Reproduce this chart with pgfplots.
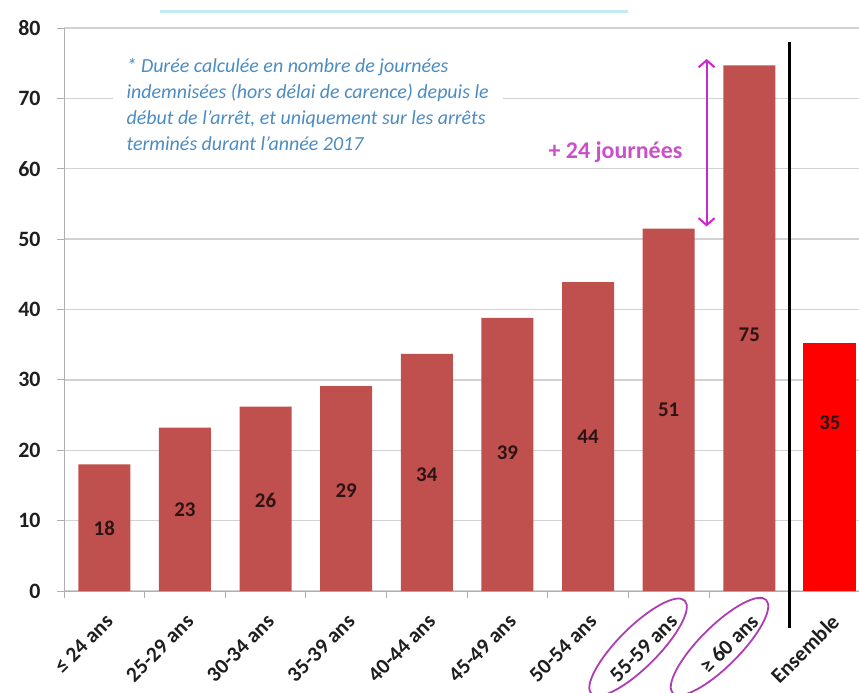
\documentclass[border=0pt]{standalone}
\usepackage{pgfplots}
\pgfplotsset{compat=1.18}
\usepackage{fontspec}
\setmainfont{Carlito}
\usetikzlibrary{arrows.meta,shapes.geometric}
\definecolor{barred}{RGB}{192,80,77}
\definecolor{ensred}{RGB}{255,0,0}
\definecolor{gridgray}{RGB}{210,210,210}
\definecolor{axgray}{RGB}{175,175,175}
\definecolor{notebl}{RGB}{75,140,195}
\definecolor{mag}{RGB}{200,40,205}
\definecolor{magtxt}{RGB}{200,80,200}
\definecolor{ellmag}{RGB}{175,60,180}
\definecolor{cyanl}{RGB}{195,235,242}
\definecolor{labtxt}{RGB}{30,30,30}
\definecolor{valtxt}{RGB}{45,20,20}
\begin{document}
\begin{tikzpicture}
\begin{axis}[
  at={(0,0)}, anchor=south west,
  scale only axis, width=795bp, height=563bp,
  xmin=-0.5, xmax=9.36, ymin=0, ymax=80,
  axis x line*=bottom, axis y line*=left,
  axis line style={axgray, line width=0.8bp, -},
  tick align=outside,
  major tick length=7bp,
  tick style={axgray, line width=0.8bp},
  ytick={0,10,...,80},
  ymajorgrids, grid style={gridgray, line width=1.3bp},
  xtick={-0.5,0.5,...,8.5},
  xticklabel=\empty,
  extra x ticks={0,1,2,3,4,5,6,7,8,9},
  extra x tick labels={{≤ 24 ans},{25-29 ans},{30-34 ans},{35-39 ans},{40-44 ans},{45-49 ans},{50-54 ans},{55-59 ans},{≥ 60 ans},{Ensemble}},
  extra x tick style={major tick length=0pt,
    xticklabel style={xshift=0bp, yshift=-21bp, rotate=45, anchor=north east, font=\bfseries\fontsize{21.5}{21.5}\selectfont, text=labtxt, inner sep=0.5bp}},
  yticklabel style={font=\bfseries\fontsize{22}{22}\selectfont, text=labtxt, xshift=-13bp},
  /pgf/number format/assume math mode=true,
  clip=false,
]
\addplot[ybar, bar width=52bp, bar shift=0pt, fill=barred, draw=none]
  coordinates {(0,18.0)(1,23.2)(2,26.2)(3,29.1)(4,33.7)(5,38.8)(6,43.9)(7,51.5)(8,74.7)};
\addplot[ybar, bar width=53bp, bar shift=0pt, fill=ensred, draw=none]
  coordinates {(9,35.3)};

\begin{scope}[every node/.style={font=\bfseries\fontsize{21}{21}\selectfont, text=valtxt}]
\node at (axis cs:0,8.9) {18};
\node at (axis cs:1,11.5) {23};
\node at (axis cs:2,12.9) {26};
\node at (axis cs:3,14.3) {29};
\node at (axis cs:4,16.5) {34};
\node at (axis cs:5,19.6) {39};
\node at (axis cs:6,21.9) {44};
\node at (axis cs:7,25.7) {51};
\node at (axis cs:8,36.4) {75};
\node at (axis cs:9,23.9) {35};
\end{scope}

\node[anchor=north west, fill=white, inner xsep=14bp, inner ysep=5bp, align=left,
      font=\itshape\fontsize{20}{26}\selectfont, text=notebl]
  at (axis cs:0.1,76.4)
  {* Durée calculée en nombre de journées\\
   indemnisées (hors délai de carence) depuis le\\
   début de l’arrêt, et uniquement sur les arrêts\\
   terminés durant l’année 2017};

\draw[mag, line width=2bp, {Straight Barb[length=7bp,width=16bp]}-{Straight Barb[length=7bp,width=16bp]}]
  (axis cs:7.47,75.6) -- (axis cs:7.47,51.8);
\node[font=\bfseries\fontsize{24}{24}\selectfont, text=magtxt] at (axis cs:6.34,62.4) {+ 24 journées};

\draw[black, line width=2.5bp] (axis cs:8.5,78) -- (axis cs:8.5,-5.2);
\draw[cyanl, line width=3bp] (axis cs:0.69,82.4) -- (axis cs:6.49,82.4);

\node[draw=ellmag, line width=1.8bp, ellipse, rotate=45, minimum width=132bp, minimum height=40bp, inner sep=0pt] at (axis cs:6.62,-8.0) {};
\node[draw=ellmag, line width=1.8bp, ellipse, rotate=45, minimum width=132bp, minimum height=40bp, inner sep=0pt] at (axis cs:7.63,-7.9) {};
\end{axis}
\pgfresetboundingbox
\useasboundingbox (-64bp,-102bp) rectangle (795bp,591bp);
\end{tikzpicture}
\end{document}
